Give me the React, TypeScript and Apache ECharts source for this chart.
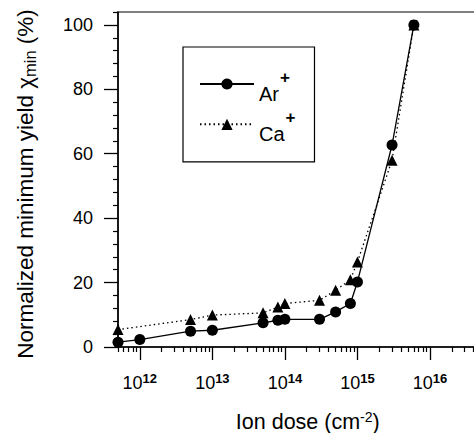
import React, { useEffect, useRef } from 'react';
import * as echarts from 'echarts';

// Ion dose (cm^-2) and normalized minimum yield (%)
const arDose = [5e11, 1e12, 5e12, 1e13, 5e13, 8e13, 1e14, 3e14, 5e14, 8e14, 1e15, 3e15, 6e15];
const arYield = [1.5, 2.3, 4.9, 5.2, 7.5, 8.3, 8.6, 8.6, 10.9, 13.5, 20.2, 62.7, 100];
const caDose = [5e11, 5e12, 1e13, 5e13, 8e13, 1e14, 3e14, 5e14, 8e14, 1e15, 3e15, 6e15];
const caYield = [5.4, 8.5, 9.9, 10.6, 12.4, 13.5, 14.5, 17.6, 20.9, 26.4, 58, 100];

const xMajorExponents = [12, 13, 14, 15, 16];
const xMinorMultipliers = [2, 3, 4, 5, 6, 7, 8, 9];
const yMajorTicks = [0, 20, 40, 60, 80, 100];
const yMinorTicks = [4, 8, 12, 16, 24, 28, 32, 36, 44, 48, 52, 56, 64, 68, 72, 76, 84, 88, 92, 96, 104];

const X_MIN = 5e11;
const X_MAX = 1e17;
const Y_MIN = 0;
const Y_MAX = 104;

const FONT = "'Liberation Sans', Arial, Helvetica, sans-serif";

function minorLogTicks(): number[] {
  const lo = Math.log10(X_MIN) - 1e-9;
  const hi = Math.log10(X_MAX) + 1e-9;
  const out: number[] = [];
  for (let e = 11; e < 17; e++) {
    for (const k of xMinorMultipliers) {
      const v = Math.log10(k * Math.pow(10, e));
      if (v >= lo && v <= hi) out.push(v);
    }
  }
  return out;
}

export default function App() {
  const ref = useRef<HTMLDivElement>(null);

  useEffect(() => {
    if (!ref.current) return;
    const chart = echarts.init(ref.current, undefined, { renderer: 'svg' });
    const xmin = Math.log10(X_MIN);
    const xmax = Math.log10(X_MAX);
    const toPts = (xs: number[], ys: number[]) => xs.map((x, i) => [Math.log10(x), ys[i]]);

    const option: any = {
      animation: false,
      backgroundColor: '#ffffff',
      textStyle: { fontFamily: FONT, color: '#000' },
      grid: {
        left: 118,
        top: 12,
        width: 384.5,
        height: 335,
        outerBoundsMode: 'none',
        containLabel: false,
        show: true,
        borderColor: '#000',
        borderWidth: 1.2,
        backgroundColor: 'transparent',
      },
      legend: {
        data: ['Ar', 'Ca'],
        orient: 'vertical',
        left: 183,
        top: 47,
        padding: [21.5, 19, 18, 16],
        itemGap: 5.3,
        itemWidth: 54,
        itemHeight: 14,
        borderColor: '#000',
        borderWidth: 1.2,
        selectedMode: false,
        formatter: (name: string) => `{n|${name}}{s|+}`,
        textStyle: {
          fontFamily: FONT,
          color: '#000',
          rich: {
            n: { fontFamily: FONT, fontSize: 20, lineHeight: 39, verticalAlign: 'bottom', color: '#000' },
            s: { fontFamily: FONT, fontSize: 17, fontWeight: 'bold', verticalAlign: 'bottom', padding: [0, 0, 18, 1], color: '#000' },
          },
        },
      },
      xAxis: [
        {
          type: 'value',
          gridIndex: 0,
          position: 'bottom',
          min: xmin,
          max: xmax,
          axisLine: { show: true, lineStyle: { color: '#000', width: 1.5 } },
          axisTick: { show: true, customValues: xMajorExponents, length: 13, lineStyle: { color: '#000', width: 1.3 } },
          axisLabel: {
            show: true,
            customValues: xMajorExponents,
            margin: 25,
            formatter: (v: number) => `{b|10}{e|${Math.round(v)}}`,
            rich: {
              b: { fontFamily: FONT, fontSize: 18, lineHeight: 20, verticalAlign: 'bottom', color: '#000' },
              e: { fontFamily: FONT, fontSize: 13, fontWeight: 'bold', verticalAlign: 'top', color: '#000' },
            },
          },
          splitLine: { show: false },
          name: '{a|Ion dose (cm}{s|-2}{a|)}',
          nameLocation: 'middle',
          nameGap: 63,
          nameTextStyle: {
            padding: [0, 5, 0, 0],
            rich: {
              a: { fontFamily: FONT, fontSize: 21.5, lineHeight: 24, color: '#000' },
              s: { fontFamily: FONT, fontSize: 14, verticalAlign: 'top', color: '#000' },
            },
          },
        },
        {
          type: 'value',
          gridIndex: 0,
          position: 'bottom',
          min: xmin,
          max: xmax,
          axisLine: { show: false },
          axisTick: { show: true, customValues: minorLogTicks(), length: 5, lineStyle: { color: '#000', width: 1.2 } },
          axisLabel: { show: false },
          splitLine: { show: false },
        },
      ],
      yAxis: [
        {
          type: 'value',
          gridIndex: 0,
          position: 'left',
          min: Y_MIN,
          max: Y_MAX,
          axisLine: { show: true, lineStyle: { color: '#000', width: 1.5 } },
          axisTick: { show: true, customValues: yMajorTicks, length: 14, lineStyle: { color: '#000', width: 1.3 } },
          axisLabel: { show: true, customValues: yMajorTicks, margin: 25, fontFamily: FONT, fontSize: 18, color: '#000' },
          splitLine: { show: false },
          name: '{a|Normalized minimum yield χ}{b|min}{a| (%)}',
          nameLocation: 'middle',
          nameGap: 80,
          nameTextStyle: {
            padding: [0, 9, 0, 0],
            rich: {
              a: { fontFamily: FONT, fontSize: 22.5, lineHeight: 25, color: '#000' },
              b: { fontFamily: FONT, fontSize: 16.5, verticalAlign: 'bottom', color: '#000' },
            },
          },
        },
        {
          type: 'value',
          gridIndex: 0,
          position: 'left',
          min: Y_MIN,
          max: Y_MAX,
          axisLine: { show: false },
          axisTick: { show: true, customValues: yMinorTicks, length: 5, lineStyle: { color: '#000', width: 1.2 } },
          axisLabel: { show: false },
          splitLine: { show: false },
        },
      ],
      series: [
        {
          name: 'Ca',
          type: 'line',
          xAxisIndex: 0,
          yAxisIndex: 0,
          data: toPts(caDose, caYield),
          symbol: 'triangle',
          symbolSize: 11,
          clip: false,
          itemStyle: { color: '#000' },
          lineStyle: { color: '#000', width: 1.3, type: [1.5, 3] },
        },
        {
          name: 'Ar',
          type: 'line',
          xAxisIndex: 0,
          yAxisIndex: 0,
          data: toPts(arDose, arYield),
          symbol: 'circle',
          symbolSize: 11,
          clip: false,
          itemStyle: { color: '#000' },
          lineStyle: { color: '#000', width: 1.3, type: 'solid' },
        },
      ],
    };

    chart.setOption(option);
    return () => chart.dispose();
  }, []);

  return (
    <div
      ref={ref}
      style={{ position: 'fixed', left: 0, top: 0, width: 474, height: 433, background: '#fff' }}
    />
  );
}
